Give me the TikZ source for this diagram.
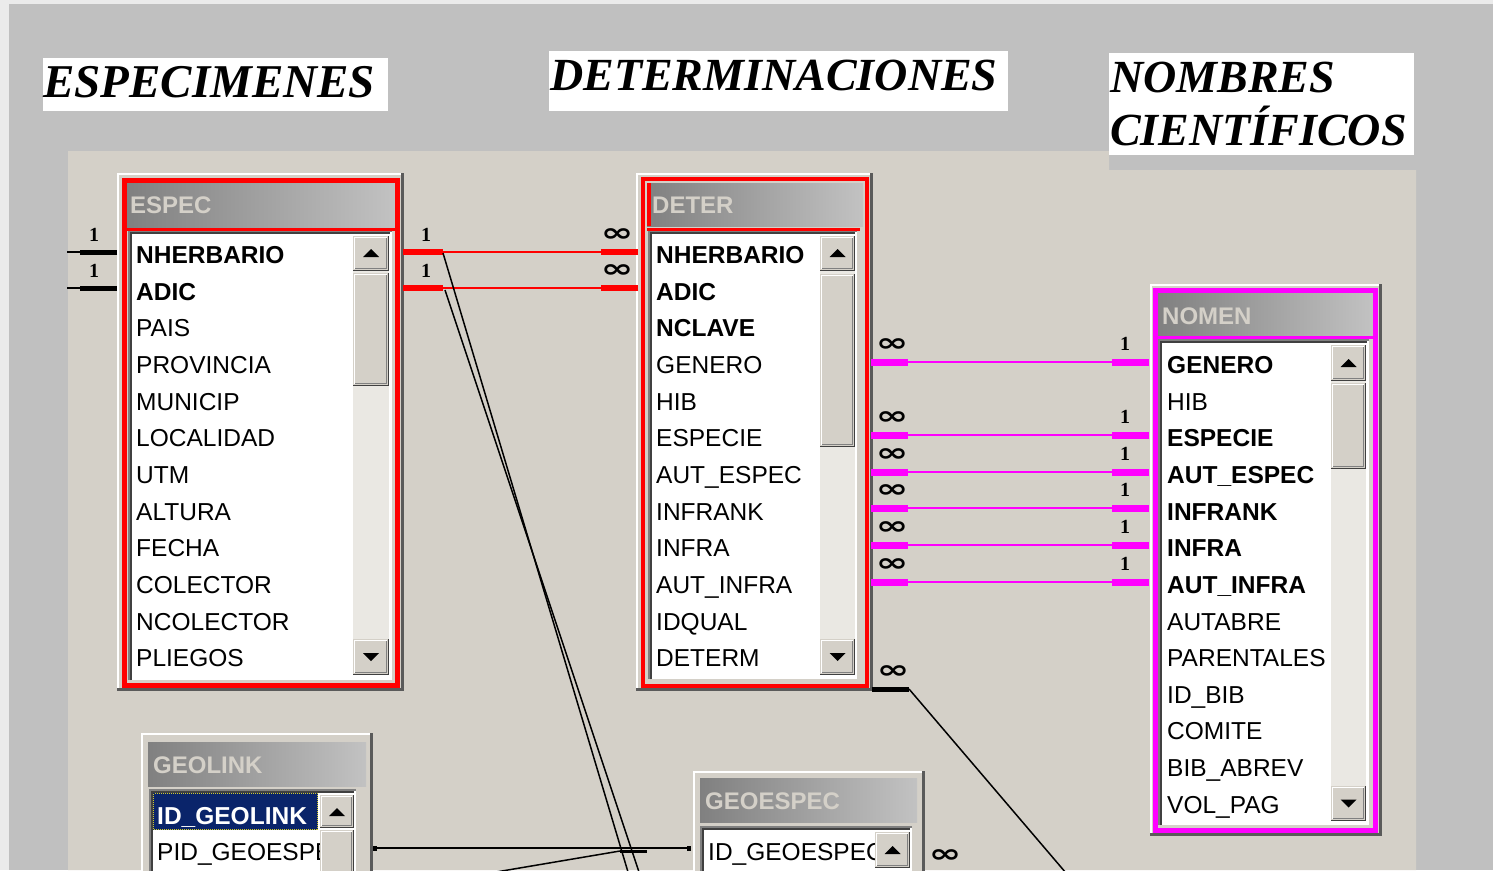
\documentclass[tikz,border=0pt]{standalone}
\usepackage{fontspec}
\usepackage{graphicx}
\setmainfont{Liberation Sans}
\newfontfamily\titlefont{Liberation Serif}
\newfontfamily\symfont{DejaVu Sans}
\newfontfamily\numfont{Liberation Serif}
\usetikzlibrary{calc}
\definecolor{winface}{HTML}{D4D0C8}
\definecolor{bggrey}{HTML}{C0C0C0}
\definecolor{outerlt}{HTML}{EBEBEB}
\definecolor{dkgrey}{HTML}{808080}
\definecolor{shadowc}{HTML}{404040}
\definecolor{framesh}{HTML}{5A5A5A}
\definecolor{trackc}{HTML}{EAE8E3}
\definecolor{navy}{HTML}{0A246A}
\definecolor{magc}{HTML}{FF00FF}
\definecolor{redc}{HTML}{FF0000}
\definecolor{titleL}{HTML}{808080}
\definecolor{titleR}{HTML}{C2C2C2}

\newcommand{\WinFrame}[4]{%
  \fill[winface] (#1,#2) rectangle (#3,#4);
  \draw[white,line width=2] (#1+1,#4-3) -- (#1+1,#2+1) -- (#3-3,#2+1);
  \draw[framesh,line width=3] (#1,#4-1.5) -- (#3-1.5,#4-1.5) -- (#3-1.5,#2);
}
\newcommand{\Btn}[4]{%
  \fill[winface] (#1,#2) rectangle (#3,#4);
  \draw[white,line width=1.5] (#1+1.5,#4-2) -- (#1+1.5,#2+1.5) -- (#3-2,#2+1.5);
  \draw[dkgrey,line width=1.5] (#1+2,#4-2.5) -- (#3-2.5,#4-2.5) -- (#3-2.5,#2+2);
  \draw[shadowc,line width=1.5] (#1,#4-0.75) -- (#3-0.75,#4-0.75) -- (#3-0.75,#2);
}
\newcommand{\UpTri}[2]{\fill[black] (#1-8,#2+4) -- (#1+8,#2+4) -- (#1,#2-4) -- cycle;}
\newcommand{\DnTri}[2]{\fill[black] (#1-8,#2-4) -- (#1+8,#2-4) -- (#1,#2+4) -- cycle;}
\newcommand{\TitleBar}[4]{\shade[left color=titleL,right color=titleR] (#1,#2) rectangle (#3,#4);}
\newcommand{\ListBox}[4]{%
  \fill[white] (#1,#2) rectangle (#3,#4);
  \draw[dkgrey,line width=2] (#1,#4) -- (#1,#2) -- (#3,#2);
  \draw[shadowc,line width=1.5] (#1+2,#4) -- (#1+2,#2+2) -- (#3-2,#2+2);
}
\newcommand{\Track}[4]{\fill[trackc] (#1,#2) rectangle (#3,#4);}
\newcommand{\Inf}{\scalebox{1.3}[0.85]{∞}}

\tikzset{
  rowtxt/.style={anchor=base west, inner sep=0pt, font=\fontsize{24.5}{25}\selectfont},
  tbltitle/.style={anchor=base west, inner sep=0pt, text=winface, font=\bfseries\fontsize{24}{25}\selectfont},
  bigtitle/.style={anchor=base west, inner sep=0pt, font=\titlefont\bfseries\itshape\fontsize{46}{46}\selectfont},
  onelbl/.style={inner sep=0pt, font=\numfont\bfseries\fontsize{20}{20}\selectfont},
  manylbl/.style={inner sep=0pt, font=\symfont\bfseries\fontsize{30}{30}\selectfont},
  redthin/.style={draw=redc, line width=2},
  redthick/.style={draw=redc, line width=6},
  magthin/.style={draw=magc, line width=2.5},
  magthick/.style={draw=magc, line width=7},
  blkthin/.style={draw=black, line width=1.5},
  blkthick/.style={draw=black, line width=5},
}

\begin{document}
\begin{tikzpicture}[x=1pt,y=-1pt]
\useasboundingbox (0,0) rectangle (1493,870);
\clip (0,0) rectangle (1493,870);
% backgrounds
\fill[outerlt] (0,0) rectangle (1493,870);
\fill[bggrey] (9,4) rectangle (1493,870);
\fill[winface] (68,151) -- (1109,151) -- (1109,170) -- (1416,170) -- (1416,870) -- (68,870) -- cycle;

% big titles
\fill[white] (43,58) rectangle (388,111);
\node[bigtitle, font=\titlefont\bfseries\itshape\fontsize{47}{47}\selectfont] (tEsp) at (43,97) {ESPECIMENES};
\fill[white] (549,51) rectangle (1008,111);
\node[bigtitle] (tDet) at (550,90) {DETERMINACIONES};
\fill[white] (1109,53) rectangle (1414,155);
\node[bigtitle] (tNom1) at (1110,92) {NOMBRES};
\node[bigtitle] (tNom2) at (1110,145) {CIENTÍFICOS};

% ================= ESPEC =================
\WinFrame{117}{173}{404}{691}
\TitleBar{127}{183}{395}{227}
\node[tbltitle] (espec) at (130,213) {ESPEC};
\ListBox{129}{231}{392}{680}
\foreach \t/\b [count=\i from 0] in {NHERBARIO/1,ADIC/1,PAIS/0,PROVINCIA/0,MUNICIP/0,LOCALIDAD/0,UTM/0,ALTURA/0,FECHA/0,COLECTOR/0,NCOLECTOR/0,PLIEGOS/0}{
  \pgfmathsetmacro\yy{263.5+36.65*\i}
  \node[rowtxt] (espec-r\i) at (136,\yy) {\ifnum\b=1 \bfseries\fi\t};
}
\Track{353}{271}{389}{639}
\Btn{353}{236}{389}{271}\UpTri{371}{253}
\Btn{353}{273}{389}{386}
\Btn{353}{639}{389}{675}\DnTri{371}{657}
\draw[redc,line width=5] (124.5,180.5) rectangle (397.5,685.5);
\draw[redc,line width=3] (127,229) -- (395,229);

% ================= DETER =================
\WinFrame{636}{173}{873}{691}
\TitleBar{647}{183}{863}{226}
\fill[redc] (647,183) rectangle (651,226);
\node[tbltitle] (deter) at (652,213) {DETER};
\ListBox{649}{231}{857}{679}
\foreach \t/\b [count=\i from 0] in {NHERBARIO/1,ADIC/1,NCLAVE/1,GENERO/0,HIB/0,ESPECIE/0,AUT\_ESPEC/0,INFRANK/0,INFRA/0,AUT\_INFRA/0,IDQUAL/0,DETERM/0}{
  \pgfmathsetmacro\yy{263.5+36.65*\i}
  \node[rowtxt] (deter-r\i) at (656,\yy) {\ifnum\b=1 \bfseries\fi\t};
}
\Track{820}{271}{855}{639}
\Btn{820}{236}{855}{271}\UpTri{837.5}{253}
\Btn{820}{274}{855}{447}
\Btn{820}{639}{855}{675}\DnTri{837.5}{657}
\draw[redc,line width=4] (642.5,178.5) rectangle (866.5,685.5);
\draw[redc,line width=3] (647,229) -- (860,229);

% ================= NOMEN =================
\WinFrame{1150}{284}{1382}{836}
\TitleBar{1158}{293}{1373}{336}
\node[tbltitle] (nomen) at (1162,324) {NOMEN};
\ListBox{1159}{340}{1369}{825}
\foreach \t/\b [count=\i from 3] in {GENERO/1,HIB/0,ESPECIE/1,AUT\_ESPEC/1,INFRANK/1,INFRA/1,AUT\_INFRA/1,AUTABRE/0,PARENTALES/0,ID\_BIB/0,COMITE/0,BIB\_ABREV/0,VOL\_PAG/0}{
  \pgfmathsetmacro\yy{263.5+36.65*\i}
  \node[rowtxt] (nomen-r\i) at (1167,\yy) {\ifnum\b=1 \bfseries\fi\t};
}
\Track{1331}{381}{1366}{786}
\Btn{1331}{345}{1366}{381}\UpTri{1348.5}{363}
\Btn{1331}{383}{1366}{469}
\Btn{1331}{786}{1366}{821}\DnTri{1348.5}{803.5}
\draw[magc,line width=5] (1155.5,290.5) rectangle (1375.5,830);
\draw[magc,line width=3] (1158,337.5) -- (1373,337.5);

% ================= GEOLINK =================
\WinFrame{141}{733}{373}{900}
\TitleBar{148}{742}{366}{786}
\node[tbltitle] (geolink) at (153,773) {GEOLINK};
\ListBox{150}{790}{356}{900}
\fill[navy] (153,793) rectangle (318,830);
\draw[yellow!80!black, densely dotted, line width=1] (153.5,793.5) rectangle (317.5,829.5);
\node[rowtxt, text=white, font=\bfseries\fontsize{24.5}{25}\selectfont] (geolink-r0) at (157,824) {ID\_GEOLINK};
\node[rowtxt] (geolink-r1) at (157,860.5) {PID\_GEOESPE};
\Btn{320}{830}{354}{900}
\Btn{320}{795}{354}{828}\UpTri{337}{812}

% ================= GEOESPEC =================
\WinFrame{693}{771}{925}{900}
\TitleBar{700}{778}{917}{822}
\node[tbltitle] (geoespec) at (705,809) {GEOESPEC};
\ListBox{701}{827}{912}{900}
\begin{scope}
\clip (705,830) rectangle (875,900);
\node[rowtxt] (geoespec-r0) at (708,860) {ID\_GEOESPEC};
\end{scope}
\Btn{875}{832}{910}{868}\UpTri{892.5}{850}

% ================= connectors =================
\coordinate (fL1) at (67,252);   \coordinate (eL1) at (117,252);
\coordinate (fL2) at (67,288);   \coordinate (eL2) at (117,288);
\coordinate (eR1) at (403,252);  \coordinate (dL1) at (638,252);
\coordinate (eR2) at (403,288);  \coordinate (dL2) at (638,288);

% left of ESPEC
\draw[blkthin, line width=2] (fL1) -- (eL1);
\draw[blkthick] (eL1) -- ++(-37,0);
\draw[blkthin, line width=2] (fL2) -- (eL2);
\draw[blkthick] (eL2) -- ++(-37,0);
\node[onelbl] (lbl-l1) at (94,235) {1};
\node[onelbl] (lbl-l2) at (94,271) {1};

% ESPEC -> DETER
\draw[redthin] (eR1) -- (dL1);
\draw[redthin] (eR2) -- (dL2);
\draw[redthick] (eR1) -- ++(40,0);
\draw[redthick] (eR2) -- ++(40,0);
\draw[redthick] (dL1) -- ++(-37,0);
\draw[redthick] (dL2) -- ++(-37,0);
\node[onelbl] (lbl-e1) at (426,235) {1};
\node[onelbl] (lbl-e2) at (426,271) {1};
\node[manylbl] (lbl-d1) at (617,235) {\Inf};
\node[manylbl] (lbl-d2) at (617,271) {\Inf};

% long diagonal lines from ESPEC links
\coordinate (x1s) at (443,253); \coordinate (x1e) at (628,872);
\coordinate (x2s) at (445,290); \coordinate (x2e) at (639,872);
\draw[blkthin] (x1s) -- (x1e);
\draw[blkthin] (x2s) -- (x2e);

% DETER -> NOMEN (magenta)
\foreach \ly in {362,435,472,508,545,582}{
  \coordinate (dR\ly) at (871,\ly);
  \coordinate (nL\ly) at (1149,\ly);
  \draw[magthin] (dR\ly) -- (nL\ly);
  \draw[magthick] (dR\ly) -- ++(37,0);
  \draw[magthick] (nL\ly) -- ++(-37,0);
  \node[manylbl] (lbl-m\ly) at (892,\ly-17) {\Inf};
  \node[onelbl] (lbl-n\ly) at (1125,\ly-18) {1};
}

% DETER bottom-right link
\coordinate (dB) at (872,689);
\coordinate (dBk) at (909,689);
\coordinate (dBe) at (1072,880);
\draw[blkthick] (dB) -- (dBk);
\draw[blkthin] (dBk) -- (dBe);
\node[manylbl] (lbl-db) at (893,672) {\Inf};

% GEOLINK -> GEOESPEC
\coordinate (gl) at (375,848);
\coordinate (ge) at (689,848);
\draw[blkthin] (gl) -- (ge);
\fill[black] (373,845.5) rectangle (377,850.5);
\fill[black] (687,845.5) rectangle (691,850.5);
\coordinate (lowS) at (496,872);
\coordinate (lowK) at (620,851);
\coordinate (lowE) at (647,851);
\draw[blkthin] (lowS) -- (lowK);
\draw[blkthin, line width=3] (lowK) -- (lowE);
\node[manylbl] (lbl-ge) at (945,856) {\Inf};
\end{tikzpicture}
\end{document}
